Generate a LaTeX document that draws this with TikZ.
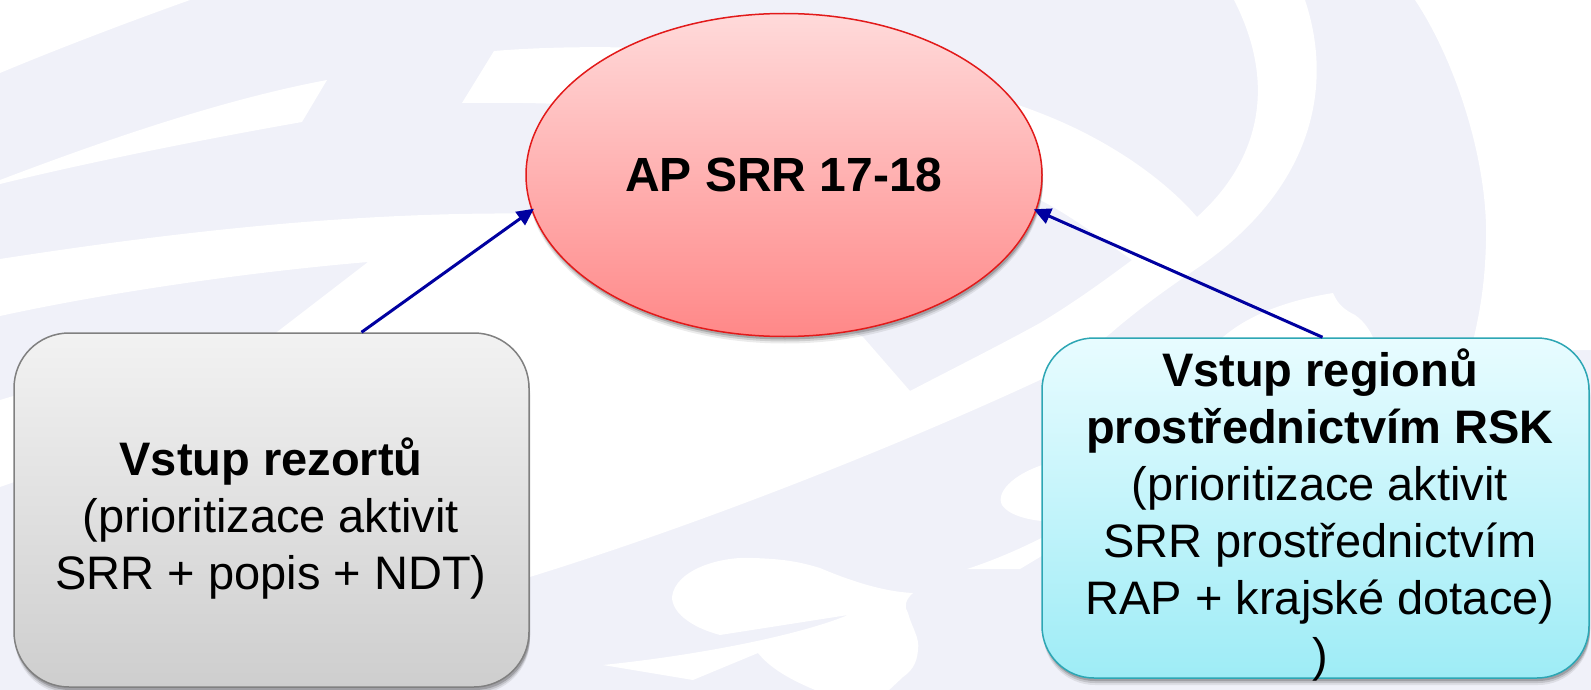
\documentclass[tikz,border=0pt]{standalone}
\usepackage{fontspec}
\setmainfont{Liberation Sans}
\usetikzlibrary{shapes.geometric,arrows.meta,shadows}
\definecolor{wm}{RGB}{240,241,249}
\definecolor{arrblue}{RGB}{0,0,160}
\definecolor{elltop}{RGB}{255,218,218}
\definecolor{ellbot}{RGB}{255,136,136}
\definecolor{ellline}{RGB}{226,26,26}
\definecolor{greytop}{RGB}{242,242,242}
\definecolor{greybot}{RGB}{206,206,206}
\definecolor{greyline}{RGB}{128,128,128}
\definecolor{cyantop}{RGB}{232,252,255}
\definecolor{cyanbot}{RGB}{158,236,246}
\definecolor{cyanline}{RGB}{45,166,180}
\begin{document}
\begin{tikzpicture}[x=1pt,y=-1pt,
  wmwhite/.style={fill=white,draw=none},
  softshadow/.style={
    drop shadow={shadow xshift=1pt,shadow yshift=-7pt,opacity=0.08,fill=black},
    drop shadow={shadow xshift=1pt,shadow yshift=-5pt,opacity=0.12,fill=black},
    drop shadow={shadow xshift=1pt,shadow yshift=-3pt,opacity=0.18,fill=black}},
  ellnode/.style={ellipse,draw=ellline,line width=1.5pt,top color=elltop,bottom color=ellbot,
    minimum width=516pt,minimum height=323pt,inner sep=0pt,
    font=\fontsize{48}{58}\selectfont\bfseries,softshadow},
  rezbox/.style={rectangle,rounded corners=55pt,draw=greyline,line width=1.5pt,
    top color=greytop,bottom color=greybot,minimum width=515pt,minimum height=354pt,softshadow},
  regbox/.style={rectangle,rounded corners=52pt,draw=cyanline,line width=1.5pt,
    top color=cyantop,bottom color=cyanbot,minimum width=547pt,minimum height=340pt,softshadow},
  txt/.style={align=center,font=\fontsize{47}{57}\selectfont,inner sep=0pt},
  arr/.style={draw=arrblue,line width=3pt,shorten >=-3pt,-{Triangle[length=17pt,width=16pt]}}
]
\useasboundingbox (0,0) rectangle (1591,690);
% watermark
\fill[wm] (0,0) rectangle (1591,690);
\fill[wmwhite] (0,0) -- (190,0) .. controls (120,25) and (50,52) .. (0,73) -- cycle;
\fill[wmwhite] (0,180) .. controls (100,142) and (220,100) .. (327,80) -- (302,122)
  .. controls (200,140) and (90,162) .. (0,184) -- cycle;
\fill[wmwhite] (494,51) .. controls (650,38) and (900,58) .. (1040,113)
  .. controls (1110,140) and (1165,180) .. (1197,217)
  .. controls (1255,165) and (1280,90) .. (1234,0)
  -- (1305,0)
  .. controls (1335,90) and (1310,190) .. (1199,267)
  .. controls (1165,290) and (1135,312) .. (1111,333)
  .. controls (1090,350) and (1065,367) .. (1040,380)
  .. controls (900,445) and (700,525) .. (520,580)
  -- (300,600) -- (264,342) -- (368,262)
  .. controls (250,272) and (110,292) .. (0,316)
  -- (0,259)
  .. controls (200,228) and (380,210) .. (560,214)
  -- (700,250) -- (863,337) -- (910,391)
  .. controls (960,365) and (1000,345) .. (1040,323)
  .. controls (1075,302) and (1105,280) .. (1132,260)
  .. controls (1100,238) and (1070,215) .. (1040,200)
  .. controls (900,125) and (650,100) .. (462,103)
  -- cycle;
\fill[wmwhite] (672,597) .. controls (675,570) and (720,556) .. (753,558)
  .. controls (785,559) and (800,562) .. (820,568)
  .. controls (860,585) and (890,592) .. (913,593)
  .. controls (905,600) and (904,607) .. (908,613)
  .. controls (912,628) and (920,638) .. (918,650)
  .. controls (917,665) and (910,672) .. (903,677)
  -- (887,692) -- (820,692)
  .. controls (790,680) and (770,668) .. (758,653)
  -- (693,680) -- (603,665)
  .. controls (700,655) and (800,635) .. (848,615)
  -- (720,635) .. controls (690,627) and (672,612) .. (672,597) -- cycle;
\fill[wmwhite] (1060,460) .. controls (1015,470) and (995,492) .. (1002,505)
  .. controls (1010,517) and (1035,522) .. (1060,522) -- cycle;
\fill[wmwhite] (967,569) -- (1020,569) -- (1060,545) -- (1060,528)
  .. controls (1030,545) and (995,560) .. (967,569) -- cycle;
\fill[wmwhite] (0,400) -- (20,394) -- (20,480) -- (0,487) -- cycle;
\fill[wmwhite] (1415,0) .. controls (1455,60) and (1488,160) .. (1486,240)
  .. controls (1485,290) and (1478,320) .. (1471,350) -- (1591,350) -- (1591,0) -- cycle;
\fill[wmwhite] (1210,350) .. controls (1240,315) and (1290,300) .. (1333,293)
  .. controls (1338,305) and (1345,310) .. (1355,315)
  .. controls (1365,322) and (1372,332) .. (1378,350) -- cycle;
% diagram
\node[ellnode] (ap) at (784,175) {AP SRR 17-18};
\node[rezbox] (rez) at (271.5,510) {};
\node[regbox] (reg) at (1315.5,508) {};
\node[txt] (rezt) at (271,519) {\textbf{Vstup rezortů}\\(prioritizace aktivit\\SRR + popis + NDT)};
\node[txt] (regt) at (1320,515) {\textbf{Vstup regionů}\\\textbf{prostřednictvím RSK}\\(prioritizace aktivit\\SRR prostřednictvím\\RAP + krajské dotace)\\)};
\draw[arr] ([xshift=90pt]rez.north) -- (ap.188);
\draw[arr] ([xshift=7pt]reg.north) -- (ap.352);
\end{tikzpicture}
\end{document}
